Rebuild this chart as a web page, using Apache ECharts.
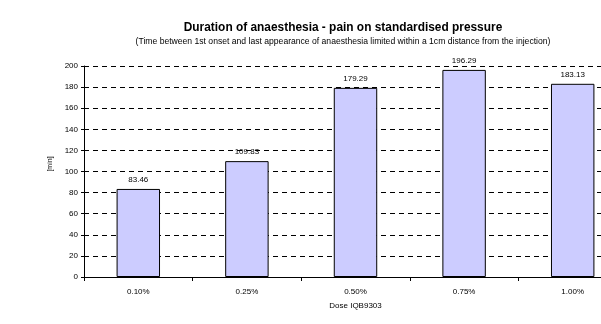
<!DOCTYPE html>
<html><head><meta charset="utf-8">
<script src="https://cdn.jsdelivr.net/npm/echarts@6/dist/echarts.min.js"></script>
<style>html,body{margin:0;padding:0;background:#fff;overflow:hidden;width:601px;height:324px}#c{width:680px;height:324px}</style>
</head><body><div id="c"></div>
<script>
const categories = ['0.10%', '0.25%', '0.50%', '0.75%', '1.00%'];
const values = [83.46, 109.83, 179.29, 196.29, 183.13];
const yTicks = [0, 20, 40, 60, 80, 100, 120, 140, 160, 180, 200];

const chart = echarts.init(document.getElementById('c'));
const F = 'Arial, "Liberation Sans", sans-serif';
chart.setOption({
  animation: false,
  backgroundColor: '#fff',
  title: [
    {text: 'Duration of anaesthesia - pain on standardised pressure', left: 338, top: 17, textAlign: 'center',
     textStyle: {fontFamily: F, fontSize: 11.9, fontWeight: 'bold', color: '#000'}},
    {text: '(Time between 1st onset and last appearance of anaesthesia limited within a 1cm distance from the injection)', left: 338, top: 32, textAlign: 'center',
     textStyle: {fontFamily: F, fontSize: 8.6, fontWeight: 'normal', color: '#000'}}
  ],
  grid: {left: 84, top: 66, width: 543, height: 211, containLabel: false},
  xAxis: {
    type: 'category', data: categories,
    name: 'Dose IQB9303', nameLocation: 'middle', nameGap: 25,
    nameTextStyle: {fontFamily: F, fontSize: 8, color: '#000'},
    axisLine: {lineStyle: {color: '#000', width: 1}},
    axisTick: {show: true, length: 4, lineStyle: {color: '#000'}},
    axisLabel: {fontFamily: F, fontSize: 8, color: '#000', margin: 11}
  },
  yAxis: {
    type: 'value', min: 0, max: 200, interval: 20,
    name: '[min]', nameLocation: 'middle', nameGap: 26, nameRotate: 90,
    nameTextStyle: {fontFamily: F, fontSize: 7, color: '#000', padding: [0, 0, 0, 15]},
    axisLine: {show: true, lineStyle: {color: '#000', width: 1}},
    axisTick: {show: true, length: 3, lineStyle: {color: '#000'}},
    axisLabel: {fontFamily: F, fontSize: 8, color: '#000', margin: 6,
      formatter: v => yTicks.includes(v) ? String(v) : ''},
    splitLine: {show: true, lineStyle: {color: '#000', width: 1, type: [5, 4]}}
  },
  series: [{
    type: 'bar', data: values, barCategoryGap: '60%',
    itemStyle: {color: '#ccccff', borderColor: '#000', borderWidth: 1},
    label: {show: true, position: 'top', distance: 5, fontFamily: F, fontSize: 8, color: '#000',
      formatter: p => p.value.toFixed(2)}
  }]
});
</script></body></html>
